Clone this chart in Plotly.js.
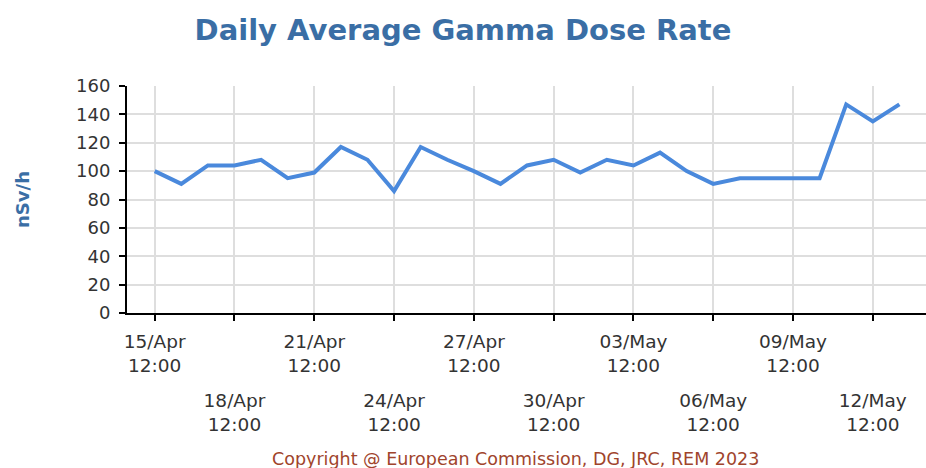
<!DOCTYPE html>
<html>
<head>
<meta charset="utf-8">
<script src="https://cdn.plot.ly/plotly-3.0.1.min.js"></script>
<style>html,body{margin:0;padding:0;background:#fff;}#chart{width:926px;height:468px;}</style>
</head>
<body>
<div id="chart"></div>
<script>
// Daily dates (12:00 each day)
const dates = [
  '2023-04-15 12:00','2023-04-16 12:00','2023-04-17 12:00','2023-04-18 12:00','2023-04-19 12:00',
  '2023-04-20 12:00','2023-04-21 12:00','2023-04-22 12:00','2023-04-23 12:00','2023-04-24 12:00',
  '2023-04-25 12:00','2023-04-26 12:00','2023-04-27 12:00','2023-04-28 12:00','2023-04-29 12:00',
  '2023-04-30 12:00','2023-05-01 12:00','2023-05-02 12:00','2023-05-03 12:00','2023-05-04 12:00',
  '2023-05-05 12:00','2023-05-06 12:00','2023-05-07 12:00','2023-05-08 12:00','2023-05-09 12:00',
  '2023-05-10 12:00','2023-05-11 12:00','2023-05-12 12:00','2023-05-13 12:00'
];
// Dose rate values (nSv/h)
const doseRate = [
  100, 91, 104, 104, 108,
  95, 99, 117, 108, 86,
  117, 108, 100, 91, 104,
  108, 99, 108, 104, 113,
  100, 91, 95, 95, 95,
  95, 147, 135, 147
];
// Tick positions and labels (upper row / lower row)
const tickValsUpper = ['2023-04-15 12:00','2023-04-21 12:00','2023-04-27 12:00','2023-05-03 12:00','2023-05-09 12:00'];
const tickTextUpper = ['15/Apr<br>12:00','21/Apr<br>12:00','27/Apr<br>12:00','03/May<br>12:00','09/May<br>12:00'];
const tickValsLower = ['2023-04-18 12:00','2023-04-24 12:00','2023-04-30 12:00','2023-05-06 12:00','2023-05-12 12:00'];
const tickTextLower = ['18/Apr<br>12:00','24/Apr<br>12:00','30/Apr<br>12:00','06/May<br>12:00','12/May<br>12:00'];
const allTickVals = tickValsUpper.concat(tickValsLower);
const allTickText = tickTextUpper.concat(tickValsLower.map(() => ''));

const lineColor = '#4a89dc';
const fontFamily = 'DejaVu Sans, Verdana, sans-serif';
const xTickFont = {family: fontFamily, size: 18.5, color: '#333333'};

const traces = [
  {
    x: dates, y: doseRate, type: 'scatter', mode: 'lines',
    line: {color: lineColor, width: 4},
    xaxis: 'x', yaxis: 'y', hoverinfo: 'x+y', showlegend: false
  },
  {
    x: dates, y: doseRate, type: 'scatter', mode: 'lines',
    line: {color: 'rgba(0,0,0,0)', width: 0},
    xaxis: 'x2', yaxis: 'y', hoverinfo: 'skip', showlegend: false
  }
];

const xRange = ['2023-04-14 11:00', '2023-05-14 12:00'];

const layout = {
  width: 926, height: 468,
  margin: {l: 127, r: 0, t: 86, b: 155},
  paper_bgcolor: '#ffffff', plot_bgcolor: '#ffffff',
  title: {
    text: 'Daily Average Gamma Dose Rate',
    font: {family: fontFamily, size: 29, color: '#3a6ea5', weight: 'bold'},
    x: 0.5, xref: 'container', xanchor: 'center',
    y: 1 - 30/468, yref: 'container', yanchor: 'middle'
  },
  xaxis: {
    type: 'date', range: xRange,
    tickmode: 'array', tickvals: allTickVals, ticktext: allTickText,
    ticks: 'outside', ticklen: 6, tickwidth: 2, tickcolor: '#000',
    ticklabelstandoff: 5,
    showline: true, linecolor: '#000', linewidth: 2,
    showgrid: true, gridcolor: '#dedede', gridwidth: 2,
    zeroline: false, tickfont: xTickFont, fixedrange: true
  },
  xaxis2: {
    type: 'date', range: xRange, overlaying: 'x', anchor: 'y', side: 'bottom',
    tickmode: 'array', tickvals: tickValsLower, ticktext: tickTextLower,
    ticks: '', showgrid: false, showline: false, zeroline: false,
    ticklabelstandoff: 74, tickfont: xTickFont, fixedrange: true
  },
  yaxis: {
    range: [0, 160], dtick: 20, tick0: 0,
    ticks: 'outside', ticklen: 6, tickwidth: 2, tickcolor: '#000',
    ticklabelstandoff: 5,
    showline: true, linecolor: '#000', linewidth: 2,
    showgrid: true, gridcolor: '#dedede', gridwidth: 2,
    zeroline: false, tickfont: {family: fontFamily, size: 18, color: '#333333'},
    fixedrange: true,
    title: {
      text: 'nSv/h', standoff: 42,
      font: {family: fontFamily, size: 18, color: '#3a6ea5', weight: 'bold'}
    }
  },
  annotations: [
    {
      text: 'Copyright @ European Commission, DG, JRC, REM 2023',
      xref: 'paper', yref: 'paper', x: (515 - 127) / 799, y: -(459 - 313) / 227,
      xanchor: 'center', yanchor: 'middle', showarrow: false,
      font: {family: fontFamily, size: 17.5, color: '#a0442c'}
    }
  ]
};

Plotly.newPlot('chart', traces, layout, {displayModeBar: false, staticPlot: true});
</script>
</body>
</html>
